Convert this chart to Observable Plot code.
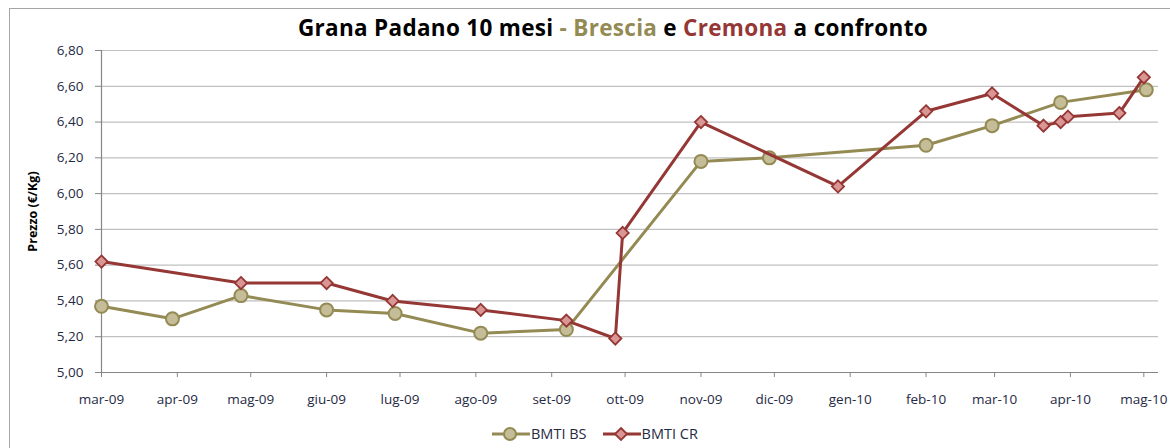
<!DOCTYPE html>
<html>
<head>
<meta charset="utf-8">
<script src="https://cdn.jsdelivr.net/npm/d3@7"></script>
<script src="https://cdn.jsdelivr.net/npm/@observablehq/plot@0.6"></script>
<style>
  html, body { margin: 0; padding: 0; background: #fff; }
  #wrap { position: relative; width: 1170px; height: 448px; overflow: hidden; font-family: "Open Sans", Lato, sans-serif; }
  #frame { position: absolute; left: 9px; top: 8px; width: 1200px; height: 500px; border-left: 1.5px solid #a6a6a6; border-top: 1.5px solid #a6a6a6; }
  #title { position: absolute; left: 0; width: 1226px; top: 12px; text-align: center; font-weight: bold; font-size: 22.5px; color: #000; letter-spacing: 0.3px; }
  #chart { position: absolute; left: 0; top: 0; }
  #legend { position: absolute; top: 424px; left: 492px; display: flex; align-items: center; font-size: 14.5px; color: #1f2a44; }
  #legend .item { display: flex; align-items: center; margin-right: 16px; }
  #legend svg { margin-right: 1px; }
</style>
</head>
<body>
<div id="wrap">
  <div id="frame"></div>
  <div id="chart"></div>
  <div id="title">Grana Padano 10 mesi <span style="color:#948a54">- Brescia</span> e <span style="color:#953735">Cremona</span> a confronto</div>
  <div id="legend"></div>
</div>
<script>
// ---- data ----
const seriesNames = ["BMTI BS", "BMTI CR"];
const bsDates = ["2009-03-01","2009-03-30","2009-04-27","2009-06-01","2009-06-29","2009-08-03","2009-09-07","2009-11-01","2009-11-29","2010-02-01","2010-02-28","2010-03-28","2010-05-02"];
const bsValues = [5.37, 5.30, 5.43, 5.35, 5.33, 5.22, 5.24, 6.18, 6.20, 6.27, 6.38, 6.51, 6.58];
const crDates = ["2009-03-01","2009-04-27","2009-06-01","2009-06-28","2009-08-03","2009-09-07","2009-09-27","2009-09-30","2009-11-01","2009-12-27","2010-02-01","2010-02-28","2010-03-21","2010-03-28","2010-03-31","2010-04-21","2010-05-01"];
const crValues = [5.62, 5.50, 5.50, 5.40, 5.35, 5.29, 5.19, 5.78, 6.40, 6.04, 6.46, 6.56, 6.38, 6.40, 6.43, 6.45, 6.65];
const xTickDates = ["2009-03-01","2009-04-01","2009-05-01","2009-06-01","2009-07-01","2009-08-01","2009-09-01","2009-10-01","2009-11-01","2009-12-01","2010-01-01","2010-02-01","2010-03-01","2010-04-01","2010-05-01"];
const xTickLabels = ["mar-09","apr-09","mag-09","giu-09","lug-09","ago-09","set-09","ott-09","nov-09","dic-09","gen-10","feb-10","mar-10","apr-10","mag-10"];
const yTicks = [5.00, 5.20, 5.40, 5.60, 5.80, 6.00, 6.20, 6.40, 6.60, 6.80];
const xDomain = ["2009-03-01", "2010-05-07"];

// ---- build ----
const parse = d3.utcParse("%Y-%m-%d");
const bs = bsDates.map((d, i) => ({date: parse(d), value: bsValues[i]}));
const cr = crDates.map((d, i) => ({date: parse(d), value: crValues[i]}));
const ticks = xTickDates.map(parse);
const labelMap = new Map(ticks.map((t, i) => [+t, xTickLabels[i]]));
const fmtY = d => d3.format(".2f")(d).replace(".", ",");

const olive = "#948a54", oliveFill = "#c4bd97";
const red = "#953735", redFill = "#d99694";

const chart = Plot.plot({
  width: 1170,
  height: 448,
  marginLeft: 101,
  marginRight: 12,
  marginTop: 50,
  marginBottom: 76,
  style: {fontFamily: "'Open Sans', Lato, sans-serif", fontSize: "13.5px", color: "#1f2a44", background: "transparent"},
  x: {type: "utc", domain: xDomain.map(parse)},
  y: {domain: [5, 6.8]},
  marks: [
    Plot.gridY(yTicks, {stroke: "#c0c0c0", strokeOpacity: 1, strokeWidth: 1.2}),
    Plot.axisY(yTicks, {tickFormat: fmtY, tickSize: 6, tickPadding: 12, stroke: "#868686", label: "Prezzo (€/Kg)", labelAnchor: "center", labelArrow: "none", labelOffset: 73}),
    Plot.axisX(ticks, {tickFormat: d => labelMap.get(+d), tickSize: 5, tickPadding: 17, stroke: "#868686", label: null}),
    Plot.ruleY([5], {stroke: "#868686", strokeWidth: 1.2}),
    Plot.ruleX([parse(xDomain[0])], {stroke: "#868686", strokeWidth: 1.2}),
    Plot.line(bs, {x: "date", y: "value", stroke: olive, strokeWidth: 3}),
    Plot.dot(bs, {x: "date", y: "value", r: 6.5, fill: oliveFill, stroke: olive, strokeWidth: 2}),
    Plot.line(cr, {x: "date", y: "value", stroke: red, strokeWidth: 3}),
    Plot.dot(cr, {x: "date", y: "value", symbol: "diamond2", r: 5.5, fill: redFill, stroke: red, strokeWidth: 1.8})
  ]
});
// bold y-axis label
chart.querySelectorAll("[aria-label='y-axis label'] text, [aria-label='y-axis label']").forEach(el => { el.setAttribute("font-weight", "bold"); el.setAttribute("font-size", "12.5px"); el.setAttribute("fill", "#000"); });
document.getElementById("chart").appendChild(chart);

// legend
const legend = document.getElementById("legend");
const items = [
  {name: seriesNames[0], stroke: olive, fill: oliveFill, shape: "circle"},
  {name: seriesNames[1], stroke: red, fill: redFill, shape: "diamond"}
];
items.forEach(it => {
  const div = document.createElement("div");
  div.className = "item";
  const marker = it.shape === "circle"
    ? `<circle cx="18" cy="9" r="6" fill="${it.fill}" stroke="${it.stroke}" stroke-width="2"/>`
    : `<path d="M18,3 L24,9 L18,15 L12,9 Z" fill="${it.fill}" stroke="${it.stroke}" stroke-width="1.8"/>`;
  div.innerHTML = `<svg width="38" height="18"><line x1="0" y1="9" x2="38" y2="9" stroke="${it.stroke}" stroke-width="3"/>${marker}</svg><span>${it.name}</span>`;
  legend.appendChild(div);
});
</script>
</body>
</html>
